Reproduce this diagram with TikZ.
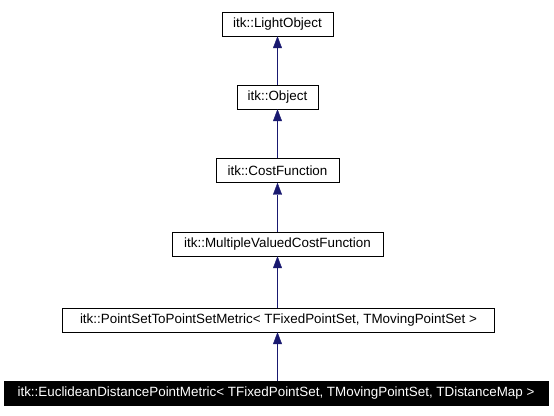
\documentclass[tikz,border=0pt]{standalone}
\usepackage{fontspec}
\setmainfont{Liberation Sans}
\usetikzlibrary{arrows.meta}
\definecolor{edgeblue}{RGB}{25,25,112}
\begin{document}
\begin{tikzpicture}[
                x=1pt, y=1pt,
                cls/.style={draw, thin, minimum height=24pt, inner sep=0pt, font=\fontsize{13.4}{15}\selectfont},
                current/.style={cls, fill=black, text=white},
                inherit/.style={edgeblue, thin, -{Triangle[width=9pt, length=12pt]}}
            ]
            \useasboundingbox (0, 0) rectangle (554, 415);
            \node[cls, minimum width=111pt] (light) at (277.5, 391) {itk::LightObject};
            \node[cls, minimum width=81pt] (object) at (277.5, 318) {itk::Object};
            \node[cls, minimum width=123pt] (cost) at (277.5, 244.5) {itk::CostFunction};
            \node[cls, minimum width=211pt] (multi) at (277.5, 171) {itk::MultipleValuedCostFunction};
            \node[cls, minimum width=432pt] (pset) at (278.5, 95) {itk::PointSetToPointSetMetric< TFixedPointSet, TMovingPointSet >};
            \node[current, minimum width=544pt] (eucl) at (276, 22) {itk::EuclideanDistancePointMetric< TFixedPointSet, TMovingPointSet, TDistanceMap >};
            \draw[inherit] (object) -- (light);
            \draw[inherit] (cost) -- (object);
            \draw[inherit] (multi) -- (cost);
            \draw[inherit] (pset.north -| multi) -- (multi);
            \draw[inherit] (eucl.north -| multi) -- (multi.south |- pset.south);
        \end{tikzpicture}
\end{document}
